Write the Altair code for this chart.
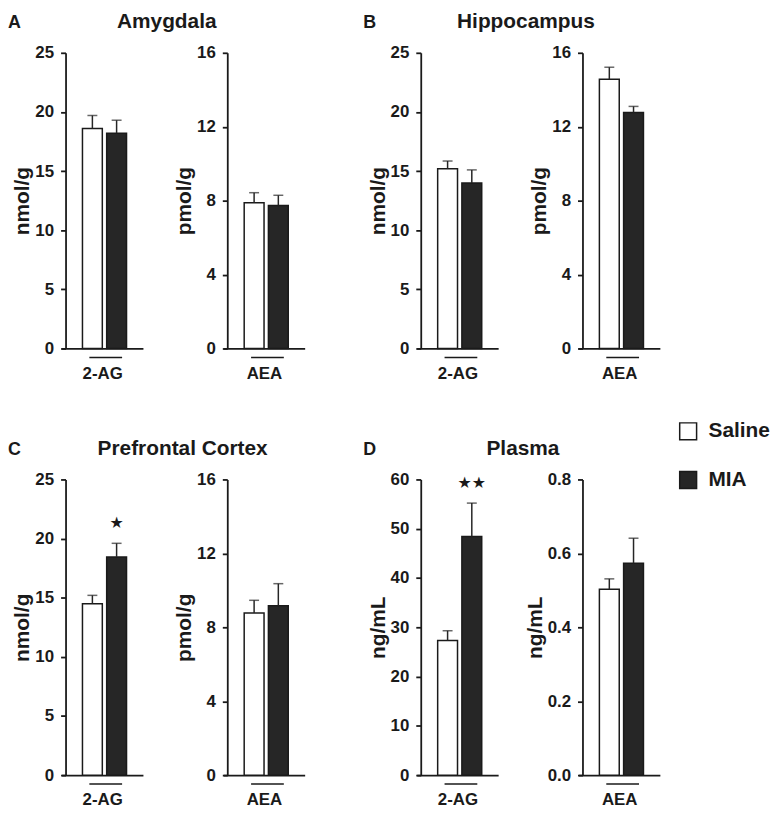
import altair as alt
import pandas as pd

# ---------------- data ----------------
regions = ["Amygdala", "Hippocampus", "Prefrontal Cortex", "Plasma"]
letters = ["A", "B", "C", "D"]
groups = ["Saline", "MIA"]

units_2ag = ["nmol/g", "nmol/g", "nmol/g", "ng/mL"]
units_aea = ["pmol/g", "pmol/g", "pmol/g", "ng/mL"]
ticks_2ag = [[0, 5, 10, 15, 20, 25], [0, 5, 10, 15, 20, 25],
             [0, 5, 10, 15, 20, 25], [0, 10, 20, 30, 40, 50, 60]]
ticks_aea = [[0, 4, 8, 12, 16], [0, 4, 8, 12, 16],
             [0, 4, 8, 12, 16], [0.0, 0.2, 0.4, 0.6, 0.8]]
fmt_2ag = ["d", "d", "d", "d"]
fmt_aea = ["d", "d", "d", ".1f"]

saline_2ag = [18.6, 15.2, 14.5, 27.3]
saline_2ag_sem = [1.1, 0.65, 0.7, 2.0]
mia_2ag = [18.2, 14.0, 18.45, 48.4]
mia_2ag_sem = [1.1, 1.1, 1.15, 6.8]

saline_aea = [7.88, 14.57, 8.77, 0.503]
saline_aea_sem = [0.55, 0.65, 0.69, 0.028]
mia_aea = [7.74, 12.77, 9.17, 0.573]
mia_aea_sem = [0.55, 0.33, 1.19, 0.068]

stars_2ag = ["", "", "\u2605", "\u2605\u2605"]
star_y_2ag = [0, 0, 21.3, 59.2]

# ---------------- style ----------------
INK = "#1a1a1a"
DARK = "#262626"
PW, PH = 82, 298
region_dx = [-98, -94, -82, -97]
fill_scale = alt.Scale(domain=groups, range=["white", DARK])


def panel(analyte, unit, ticks, fmt, sal, sal_e, mia, mia_e, star="", star_y=0,
          title=None):
    df = pd.DataFrame({"group": groups, "value": [sal, mia],
                       "top": [sal + sal_e, mia + mia_e]})
    xscale = alt.Scale(paddingInner=0.18, paddingOuter=0.77, align=0.56)
    xaxis = alt.Axis(title=analyte, labels=False, ticks=False, domain=True,
                     domainColor=INK, domainWidth=1.8, titleFontSize=17,
                     titleFontWeight="bold", titleColor=INK, titlePadding=17)
    yscale = alt.Scale(domain=[ticks[0], ticks[-1]], nice=False)
    yaxis = alt.Axis(title=unit, values=ticks, format=fmt, offset=-4, grid=False,
                     domainColor=INK, domainWidth=1.8, tickColor=INK, tickWidth=1.8,
                     tickSize=5, labelFontSize=17, labelFontWeight="bold",
                     labelColor=INK, labelPadding=7, titleFontSize=21,
                     titleFontWeight="bold", titleColor=INK, titlePadding=2)

    def X():
        return alt.X("group:N", sort=groups, scale=xscale, axis=xaxis)

    def Y(field):
        return alt.Y(field, scale=yscale, axis=yaxis)

    base = alt.Chart(df)
    bars = base.mark_bar(stroke=INK, strokeWidth=1.5).encode(
        x=X(), y=Y("value:Q"),
        fill=alt.Fill("group:N", sort=groups, scale=fill_scale, legend=None))
    err = base.mark_rule(color=DARK, strokeWidth=1.5).encode(
        x=X(), y=Y("value:Q"), y2="top:Q")
    cap = base.mark_tick(color=DARK, size=10, thickness=1.5).encode(
        x=X(), y=Y("top:Q"))
    under = alt.Chart(pd.DataFrame({"k": [0]})).mark_rule(
        color=INK, strokeWidth=1.5).encode(
        x=alt.value(28), x2=alt.value(61), y=alt.value(PH + 9))
    layers = [bars, err, cap, under]
    if star:
        sdf = pd.DataFrame({"group": ["MIA"], "y": [star_y], "t": [star]})
        layers.append(alt.Chart(sdf).mark_text(font="DejaVu Sans", fontSize=16,
                                               color=INK).encode(
            x=X(), y=Y("y:Q"), text="t:N"))
    ch = alt.layer(*layers).properties(width=PW, height=PH)
    if title is not None:
        ch = ch.properties(title=title)
    return ch


def pair(i):
    t1 = alt.Title(letters[i], anchor="start", frame="group", dx=-54, fontSize=18,
                   fontWeight="bold", color=INK, offset=12)
    t2 = alt.Title(regions[i], anchor="middle", frame="group", dx=region_dx[i],
                   fontSize=21, fontWeight="bold", color=INK, offset=12)
    p1 = panel("2-AG", units_2ag[i], ticks_2ag[i], fmt_2ag[i],
               saline_2ag[i], saline_2ag_sem[i], mia_2ag[i], mia_2ag_sem[i],
               stars_2ag[i], star_y_2ag[i], t1)
    p2 = panel("AEA", units_aea[i], ticks_aea[i], fmt_aea[i],
               saline_aea[i], saline_aea_sem[i], mia_aea[i], mia_aea_sem[i],
               "", 0, t2)
    return alt.hconcat(p1, p2, spacing=81, bounds="flush").resolve_scale(
        x="independent", y="independent", fill="independent")


# legend-only view (no marks drawn), placed to the right of panel D
legend_view = alt.Chart(pd.DataFrame({"group": groups})).transform_filter(
    "false").mark_square().encode(
    fill=alt.Fill("group:N", sort=groups, scale=fill_scale,
                  legend=alt.Legend(orient="none", legendX=0, legendY=-59,
                                    title=None, symbolType="square",
                                    symbolSize=290, symbolStrokeColor=INK,
                                    symbolStrokeWidth=1.5, symbolOpacity=1,
                                    labelFontSize=21,
                                    labelFontWeight="bold", labelColor=INK,
                                    labelOffset=10, rowPadding=24))
).properties(width=1, height=PH)

row1 = alt.hconcat(pair(0), pair(1), spacing=59).resolve_scale(
    x="independent", y="independent", fill="independent")
right2 = alt.hconcat(pair(3), legend_view, spacing=18).resolve_scale(
    x="independent", y="independent", fill="independent")
row2 = alt.hconcat(pair(2), right2, spacing=59).resolve_scale(
    x="independent", y="independent", fill="independent")

chart = alt.vconcat(row1, row2, spacing=40).resolve_scale(
    x="independent", y="independent", fill="independent"
).properties(padding=0).configure(font="Liberation Sans").configure_view(
    stroke=None)

chart.save("out.html", embed_options={"renderer": "svg", "actions": False})
